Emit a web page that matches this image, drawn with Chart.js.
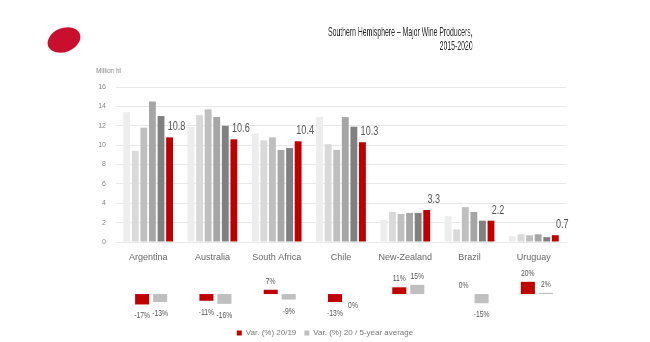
<!DOCTYPE html>
<html>
<head>
<meta charset="utf-8">
<script src="https://cdn.jsdelivr.net/npm/chart.js@4.4.1/dist/chart.umd.min.js"></script>
<style>
  body { margin: 0; width: 650px; height: 342px; background: #fff; position: relative; overflow: hidden;
         font-family: "Liberation Sans", Arial, sans-serif; }
  #logo { position: absolute; left: 47px; top: 28px; width: 34px; height: 24px; background: #c8102e;
          border-radius: 50%; transform: rotate(-22deg); }
  #title { position: absolute; right: 177px; top: 25px; text-align: right; font-size: 13.5px; line-height: 14px; color: #2a2a2a;
           transform: scaleX(0.51); transform-origin: right top; white-space: nowrap; will-change: transform; }
  #unit { position: absolute; left: 96px; top: 66px; font-size: 8px; color: #888;
          transform: scaleX(0.8); transform-origin: left top; will-change: transform; }
  canvas { position: absolute; left: 0; }
  #prodChart { top: 0; }
  #varChart { top: 262px; }
</style>
</head>
<body>
<div id="logo"></div>
<div id="title">Southern Hemisphere – Major Wine Producers,<br>2015-2020</div>
<div id="unit">Million hl</div>
<canvas id="prodChart" width="650" height="270"></canvas>
<canvas id="varChart" width="650" height="85"></canvas>
<script>
// Southern Hemisphere wine production, million hl
const countries = ['Argentina', 'Australia', 'South Africa', 'Chile', 'New-Zealand', 'Brazil', 'Uruguay'];
const years = ['2015', '2016', '2017', '2018', '2019', '2020'];
const prod2015 = [13.4, 11.9, 11.2, 12.9, 2.3, 2.7, 0.6];
const prod2016 = [9.4, 13.1, 10.5, 10.1, 3.1, 1.3, 0.8];
const prod2017 = [11.8, 13.7, 10.8, 9.5, 2.9, 3.6, 0.7];
const prod2018 = [14.5, 12.9, 9.5, 12.9, 3.0, 3.1, 0.8];
const prod2019 = [13.0, 12.0, 9.7, 11.9, 3.0, 2.2, 0.5];
const prod2020 = [10.8, 10.6, 10.4, 10.3, 3.3, 2.2, 0.7];
const varPrevYear = [-17, -11, 7, -13, 11, 0, 20];   // Var. (%) 20/19
const varFiveYear = [-13, -16, -9, 0, 15, -15, 2];   // Var. (%) 20 / 5-year average
const varLabels = ['Var. (%) 20/19', 'Var. (%) 20 / 5-year average'];

const FONT = '"Liberation Sans", Arial, sans-serif';
const yearColors = ['#ededed', '#d9d9d9', '#bfbfbf', '#a6a6a6', '#808080', '#c00000'];
const prodSeries = [prod2015, prod2016, prod2017, prod2018, prod2019, prod2020];

// draw text squeezed horizontally (the original uses a condensed face)
function narrowText(ctx, txt, x, y, squeeze) {
  ctx.save();
  ctx.translate(x, y);
  ctx.scale(squeeze, 1);
  ctx.fillText(txt, 0, 0);
  ctx.restore();
}

// value labels above the 2020 bars
const lastBarLabels = {
  id: 'lastBarLabels',
  afterDatasetsDraw(chart) {
    const ctx = chart.ctx;
    const meta = chart.getDatasetMeta(5);
    ctx.save();
    ctx.font = '13px ' + FONT;
    ctx.fillStyle = '#555';
    ctx.textAlign = 'center';
    ctx.textBaseline = 'bottom';
    meta.data.forEach((bar, i) => {
      narrowText(ctx, prod2020[i].toFixed(1), bar.x + 7, bar.y - 4, 0.7);
    });
    ctx.restore();
  }
};

new Chart(document.getElementById('prodChart'), {
  type: 'bar',
  data: {
    labels: countries,
    datasets: prodSeries.map((d, i) => ({
      label: years[i], data: d, backgroundColor: yearColors[i],
      categoryPercentage: 0.8, barPercentage: 0.8
    }))
  },
  options: {
    responsive: false,
    animation: false,
    layout: { padding: { top: 87, right: 84, bottom: 0, left: 0 } },
    plugins: { legend: { display: false }, tooltip: { enabled: false } },
    scales: {
      x: {
        grid: { display: false, drawTicks: false },
        border: { display: false },
        ticks: { color: '#666', font: { family: FONT, size: 9 }, padding: 10, maxRotation: 0, autoSkip: false },
        afterFit(s) { s.height = 28; }
      },
      y: {
        min: 0, max: 16,
        ticks: { stepSize: 2, color: '#888', font: { family: FONT, size: 7 }, padding: 10 },
        grid: { color: '#e8e8e8', drawTicks: false },
        border: { display: false },
        afterFit(s) { s.width = 116; }
      }
    }
  },
  plugins: [lastBarLabels]
});

// percentage labels next to the variation boxes
const varBoxLabels = {
  id: 'varBoxLabels',
  afterDatasetsDraw(chart) {
    const ctx = chart.ctx;
    const zero = chart.scales.y.getPixelForValue(0);
    ctx.save();
    ctx.font = '9px ' + FONT;
    ctx.fillStyle = '#555';
    ctx.textAlign = 'center';
    chart.data.datasets.forEach((ds, di) => {
      chart.getDatasetMeta(di).data.forEach((bar, i) => {
        const v = ds.data[i];
        const up = v > 0 || (v === 0 && di === 0);
        ctx.textBaseline = up ? 'bottom' : 'top';
        const y = up ? Math.min(bar.y, zero) - 4 : Math.max(bar.y, zero) + 7;
        narrowText(ctx, v + '%', bar.x, y, 0.75);
      });
    });
    ctx.restore();
  }
};

new Chart(document.getElementById('varChart'), {
  type: 'bar',
  data: {
    labels: countries,
    datasets: [
      { label: varLabels[0], data: varPrevYear, backgroundColor: '#c00000',
        categoryPercentage: 0.56, barPercentage: 0.78 },
      { label: varLabels[1], data: varFiveYear, backgroundColor: '#bfbfbf',
        categoryPercentage: 0.56, barPercentage: 0.78 }
    ]
  },
  options: {
    responsive: false,
    animation: false,
    layout: { padding: { top: 10, bottom: 0 } },
    plugins: {
      tooltip: { enabled: false },
      legend: {
        position: 'bottom',
        labels: { boxWidth: 5, boxHeight: 5, padding: 8, color: '#777', font: { family: FONT, size: 8 } }
      }
    },
    scales: {
      x: { display: false },
      y: {
        min: -44, max: 36,
        ticks: { display: false },
        grid: { display: false },
        border: { display: false },
        afterFit(s) { s.width = 119; }
      },
      yr: {
        position: 'right',
        ticks: { display: false },
        grid: { display: false },
        border: { display: false },
        afterFit(s) { s.width = 81; }
      }
    }
  },
  plugins: [varBoxLabels]
});
</script>
</body>
</html>
